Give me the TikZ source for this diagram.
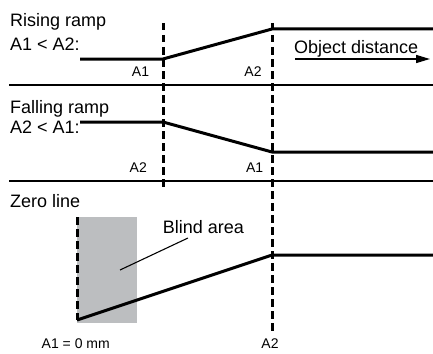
\documentclass[tikz,border=0pt]{standalone}
\usepackage{fontspec}
\setmainfont{Liberation Sans}
\usetikzlibrary{arrows.meta}
\definecolor{blindgray}{RGB}{188,190,192}
\begin{document}
\begin{tikzpicture}[x=1pt,y=-1pt,
  bigtxt/.style={inner sep=0pt,anchor=base west,font=\fontsize{18}{21}\selectfont},
  smalltxt/.style={inner sep=0pt,anchor=base,font=\fontsize{14}{16}\selectfont},
  signal/.style={line width=3pt,line join=miter},
  sep/.style={line width=1.8pt},
  guide/.style={line width=3pt,dash pattern=on 7.5pt off 4.5pt},
  leader/.style={line width=1.1pt},
  blindbox/.style={fill=blindgray,draw=none}]
\useasboundingbox (0,0) rectangle (433,353);
% blind area
\fill[blindbox] (77,217) rectangle (137,323);
% coordinates
\coordinate (r0) at (80,59);   \coordinate (r1) at (163,59);
\coordinate (r2) at (272,29);  \coordinate (r3) at (433,29);
\coordinate (f0) at (80,122);  \coordinate (f1) at (163,122);
\coordinate (f2) at (272,152); \coordinate (f3) at (433,152);
\coordinate (z0) at (77,320);  \coordinate (z1) at (272,255);
\coordinate (z2) at (433,255);
\coordinate (d1t) at (163,23); \coordinate (d1b) at (163,191);
\coordinate (d2t) at (272,23); \coordinate (d2b) at (272,334);
\coordinate (d3t) at (77,217); \coordinate (d3b) at (77,320);
\coordinate (s1a) at (9,85);   \coordinate (s1b) at (433,85);
\coordinate (s2a) at (9,181);  \coordinate (s2b) at (433,181);
\coordinate (oa) at (295,59);  \coordinate (ob) at (430,59);
\coordinate (la) at (188,238); \coordinate (lb) at (120,270);
% separators
\draw[sep] (s1a) -- (s1b);
\draw[sep] (s2a) -- (s2b);
% dashed guides
\draw[guide] (d1t) -- (d1b);
\draw[guide] (d2t) -- (d2b);
\draw[guide] (d3t) -- (d3b);
% signals
\draw[signal] (r0) -- (r1) -- (r2) -- (r3);
\draw[signal] (f0) -- (f1) -- (f2) -- (f3);
\draw[signal] (z0) -- (z1) -- (z2);
% arrow
\draw[line width=1.5pt,-{Triangle[length=14pt,width=8pt]}] (oa) -- (ob);
% leader
\draw[leader] (la) -- (lb);
% texts
\node[bigtxt] (t1) at (10,26.7) {Rising ramp};
\node[bigtxt] (t2) at (10,50) {A1 < A2:};
\node[bigtxt] (t3) at (10,113) {Falling ramp};
\node[bigtxt] (t4) at (10,133) {A2 < A1:};
\node[bigtxt] (t5) at (10,207) {Zero line};
\node[bigtxt,anchor=base] (t6) at (203.5,233) {Blind area};
\node[bigtxt] (t7) at (294,53) {Object distance};
\node[smalltxt] (l1) at (140.5,76.7) {A1};
\node[smalltxt] (l2) at (253,76.7) {A2};
\node[smalltxt] (l3) at (138.3,172.3) {A2};
\node[smalltxt] (l4) at (254.7,172.3) {A1};
\node[smalltxt,anchor=base west] (l5) at (41.5,348) {A1 = 0 mm};
\node[smalltxt] (l6) at (270,348) {A2};
\end{tikzpicture}
\end{document}
